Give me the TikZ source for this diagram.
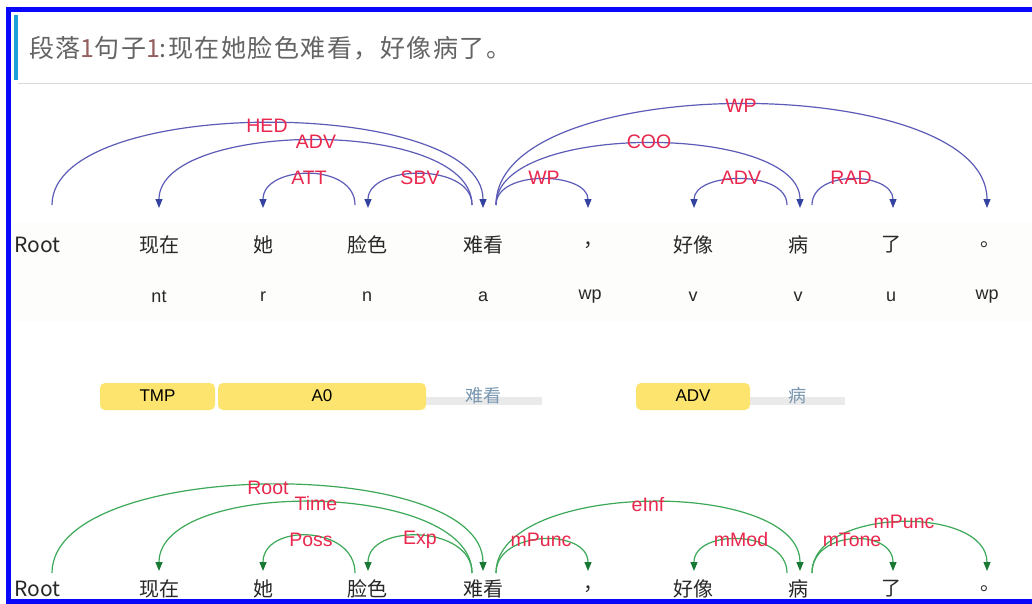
\documentclass[tikz,border=0pt]{standalone}
\usepackage{fontspec}
\setmainfont{Liberation Sans}
\newfontfamily\cjk{Noto Sans CJK SC}
\newfontfamily\cjktitle[LetterSpace=6]{Noto Sans CJK SC}
\usetikzlibrary{arrows.meta}
\definecolor{bordblue}{RGB}{8,8,250}
\definecolor{barcyan}{RGB}{30,160,216}
\definecolor{titlegray}{RGB}{100,100,100}
\definecolor{titleone}{RGB}{150,95,95}
\definecolor{rulegray}{RGB}{218,218,218}
\definecolor{wordblack}{RGB}{40,40,40}
\definecolor{lblred}{RGB}{234,40,78}
\definecolor{arcblue}{RGB}{92,92,184}
\definecolor{tipblue}{RGB}{52,66,160}
\definecolor{arcgreen}{RGB}{60,168,88}
\definecolor{tipgreen}{RGB}{24,120,52}
\definecolor{srlyellow}{RGB}{252,228,110}
\definecolor{srlbar}{RGB}{234,234,234}
\definecolor{srlpred}{RGB}{120,150,175}
\definecolor{stripbg}{RGB}{253,253,251}
\tikzset{
  word/.style={font=\cjk\fontsize{20}{20}\selectfont, text=wordblack, inner sep=0pt},
  postag/.style={font=\fontsize{18}{18}\selectfont, text=wordblack, inner sep=0pt},
  lbl/.style={font=\fontsize{19.5}{19.5}\selectfont, text=lblred, inner sep=0pt},
  barc/.style={draw=arcblue, line width=1.2pt, -{Triangle[length=9pt,width=7pt,fill=tipblue,color=tipblue]}},
  garc/.style={draw=arcgreen, line width=1.2pt, -{Triangle[length=9pt,width=7pt,fill=tipgreen,color=tipgreen]}},
  srlbox/.style={fill=srlyellow, rounded corners=5pt, draw=none},
  srltxt/.style={font=\fontsize{17}{17}\selectfont, text=black, inner sep=0pt},
  predtxt/.style={font=\cjk\fontsize{18}{18}\selectfont, text=srlpred, inner sep=0pt},
}
\newcommand\deparc[4]{\draw[#1] (#2) .. controls +(0,-#4) and +(0,-#4) .. (#3);}
\begin{document}
\begin{tikzpicture}[x=1pt,y=-1pt]
\useasboundingbox (0,0) rectangle (1032,604);
\clip (0,0) rectangle (1032,604);
\fill[white] (0,0) rectangle (1032,604);
% subtle strip behind first row
\fill[stripbg] (12,222) rectangle (1032,322);
% border
\draw[bordblue, line width=5pt] (1040,9.5) -- (8.5,9.5) -- (8.5,601.5) -- (1040,601.5);
% title
\fill[barcyan] (14,15) rectangle (18,80);
\draw[rulegray, line width=1.5pt] (18,83.5) -- (1032,83.5);
\node[anchor=west, inner sep=0pt, text=titlegray, font=\cjktitle\fontsize{25}{25}\selectfont] (title) at (29,48)
  {段落{\color{titleone}1}句子{\color{titleone}1}:现在她脸色难看，好像病了。};

% ---------- row 1 words ----------
\node[word, anchor=west, font=\cjk\fontsize{21}{21}\selectfont] (w0) at (14,245) {Root};
\node[word] (w1) at (159,245) {现在};
\node[word] (w2) at (263,245) {她};
\node[word] (w3) at (367,245) {脸色};
\node[word] (w4) at (483,245) {难看};
\node[word] (w5) at (593,245) {，};
\node[word] (w6) at (693,245) {好像};
\node[word] (w7) at (798,245) {病};
\node[word] (w8) at (891,245) {了};
\node[word] (w9) at (990,245) {。};
% POS
\node[postag] (p1) at (159,297) {nt};
\node[postag] (p2) at (263,297) {r};
\node[postag] (p3) at (367,297) {n};
\node[postag] (p4) at (483,297) {a};
\node[postag] (p5) at (590,297) {wp};
\node[postag] (p6) at (693,297) {v};
\node[postag] (p7) at (798,297) {v};
\node[postag] (p8) at (891,297) {u};
\node[postag] (p9) at (987,297) {wp};

% arc endpoints row 1
\coordinate (a0) at (52,205);
\coordinate (t1) at (159,208);
\coordinate (t2) at (263,208);
\coordinate (s3) at (355,205);
\coordinate (t3) at (368,208);
\coordinate (s4L) at (472,205);
\coordinate (t4) at (483,208);
\coordinate (s4R) at (496,205);
\coordinate (t5) at (588,208);
\coordinate (t6) at (694,208);
\coordinate (s7L) at (787,205);
\coordinate (t7) at (800,208);
\coordinate (s7R) at (812,205);
\coordinate (t8) at (893,208);
\coordinate (t9) at (987,208);

\deparc{barc}{a0}{t4}{111}
\deparc{barc}{s4L}{t1}{88}
\deparc{barc}{s3}{t2}{43}
\deparc{barc}{s4L}{t3}{43}
\deparc{barc}{s4R}{t5}{36}
\deparc{barc}{s4R}{t7}{84}
\deparc{barc}{s4R}{t9}{136}
\deparc{barc}{s7L}{t6}{36}
\deparc{barc}{s7R}{t8}{36}

\node[lbl] (l1) at (267,126) {HED};
\node[lbl] (l2) at (316,142) {ADV};
\node[lbl] (l3) at (309,178) {ATT};
\node[lbl] (l4) at (420,178) {SBV};
\node[lbl] (l5) at (544,178) {WP};
\node[lbl] (l6) at (649,142) {COO};
\node[lbl] (l7) at (741,106) {WP};
\node[lbl] (l8) at (741,178) {ADV};
\node[lbl] (l9) at (851,178) {RAD};

% ---------- SRL row ----------
\fill[srlbar] (426,397) rectangle (542,405);
\fill[srlbar] (748,397) rectangle (845,405);
\fill[srlbox] (100,383) rectangle (215,410);
\fill[srlbox] (218,383) rectangle (426,410);
\fill[srlbox] (636,383) rectangle (750,410);
\node[srltxt] (s1) at (157.5,396) {TMP};
\node[srltxt] (s2) at (322,396) {A0};
\node[predtxt] (s3t) at (483,396) {难看};
\node[srltxt] (s4) at (693,396) {ADV};
\node[predtxt] (s5t) at (797,396) {病};

% ---------- row 3 ----------
\node[word, anchor=west, font=\cjk\fontsize{21}{21}\selectfont] (v0) at (14,589) {Root};
\node[word] (v1) at (159,589) {现在};
\node[word] (v2) at (263,589) {她};
\node[word] (v3) at (367,589) {脸色};
\node[word] (v4) at (483,589) {难看};
\node[word] (v5) at (593,589) {，};
\node[word] (v6) at (693,589) {好像};
\node[word] (v7) at (798,589) {病};
\node[word] (v8) at (891,589) {了};
\node[word] (v9) at (990,589) {。};

\coordinate (b0) at (52,573);
\coordinate (u1) at (159,571);
\coordinate (u2) at (263,571);
\coordinate (r3) at (355,573);
\coordinate (u3) at (368,571);
\coordinate (r4L) at (472,573);
\coordinate (u4) at (483,571);
\coordinate (r4R) at (496,573);
\coordinate (u5) at (588,571);
\coordinate (u6) at (694,571);
\coordinate (r7L) at (787,573);
\coordinate (u7) at (800,571);
\coordinate (r7R) at (812,573);
\coordinate (u8) at (893,571);
\coordinate (u9) at (987,571);

\deparc{garc}{b0}{u4}{116}
\deparc{garc}{r4L}{u1}{93}
\deparc{garc}{r3}{u2}{48}
\deparc{garc}{r4L}{u3}{48}
\deparc{garc}{r4R}{u5}{43}
\deparc{garc}{r4R}{u7}{93}
\deparc{garc}{r7L}{u6}{43}
\deparc{garc}{r7R}{u8}{43}
\deparc{garc}{r7R}{u9}{66}

\node[lbl] (m1) at (268,488) {Root};
\node[lbl] (m2) at (316,504) {Time};
\node[lbl] (m3) at (311,540) {Poss};
\node[lbl] (m4) at (420,540) {Exp};
\node[lbl] (m5) at (541,540) {mPunc};
\node[lbl] (m6) at (648,505) {eInf};
\node[lbl] (m7) at (741,540) {mMod};
\node[lbl] (m8) at (852,540) {mTone};
\node[lbl] (m9) at (904,522) {mPunc};
\end{tikzpicture}
\end{document}
